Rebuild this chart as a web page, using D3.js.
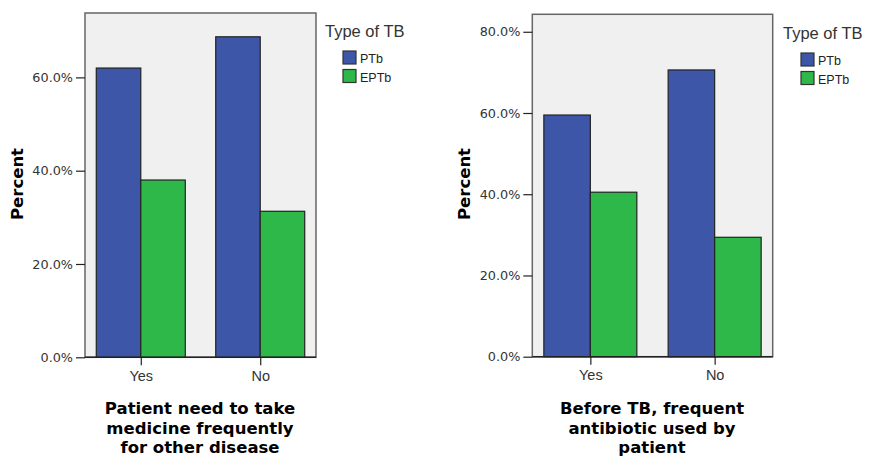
<!DOCTYPE html>
<html><head><meta charset="utf-8">
<script src="https://cdn.jsdelivr.net/npm/d3@7"></script>
<style>body{margin:0;background:#fff}svg{display:block}</style>
</head><body>
<svg id="c" width="869" height="459"></svg>
<script>
const categories = ["Yes", "No"];
const seriesNames = ["PTb", "EPTb"];
const left_PTb = [62.0, 68.7];
const left_EPTb = [38.0, 31.3];
const right_PTb = [59.5, 70.6];
const right_EPTb = [40.5, 29.4];
const leftTicks = [0, 20, 40, 60];
const rightTicks = [0, 20, 40, 60, 80];
const leftTitle = ["Patient need to take", "medicine frequently", "for other disease"];
const rightTitle = ["Before TB, frequent", "antibiotic used by", "patient"];
const legendTitle = "Type of TB";
const colors = ["#3d56a8", "#2eb84a"];

const SANS = "'Liberation Sans', Arial, sans-serif";
const BOLD = "'DejaVu Sans', Verdana, sans-serif";
const svg = d3.select("#c");

function panel(cfg) {
  const g = svg.append("g");
  const y = d3.scaleLinear().domain([0, cfg.ymax]).range([cfg.y1, cfg.y0]);
  g.append("rect").attr("x", cfg.x0).attr("y", cfg.y0).attr("width", cfg.x1 - cfg.x0).attr("height", cfg.y1 - cfg.y0)
    .attr("fill", "#f0f0f0").attr("stroke", "#666").attr("stroke-width", 1.5);
  const pos = d3.scalePoint().domain(categories).range([cfg.x0, cfg.x1]).padding(0.467);
  const bw = cfg.bw;
  [cfg.ptb, cfg.eptb].forEach((vals, si) => {
    g.selectAll(null).data(categories).join("rect")
      .attr("x", d => si === 0 ? pos(d) - bw : pos(d))
      .attr("y", (d, i) => y(vals[i]))
      .attr("width", bw)
      .attr("height", (d, i) => y(0) - y(vals[i]))
      .attr("fill", colors[si]).attr("stroke", "#222").attr("stroke-width", 1.2);
  });
  const ya = d3.axisLeft(y).tickValues(cfg.ticks).tickFormat(d => d.toFixed(1) + "%").tickSize(9).tickPadding(3);
  const yg = g.append("g").attr("transform", `translate(${cfg.x0},0)`).call(ya);
  yg.select(".domain").remove();
  yg.selectAll("line").attr("stroke", "#222").attr("stroke-width", 1.2);
  yg.selectAll("text").style("font-size", "12.8px").style("fill", "#333").style("font-family", "'DejaVu Sans', sans-serif");
  const xa = d3.axisBottom(pos).tickSize(8).tickPadding(5);
  const xg = g.append("g").attr("transform", `translate(0,${cfg.y1})`).call(xa);
  xg.select(".domain").remove();
  xg.selectAll("line").attr("stroke", "#222").attr("stroke-width", 1.2);
  xg.selectAll("text").style("font-size", "14.5px").style("fill", "#333").style("font-family", SANS);
  g.append("line").attr("x1", cfg.x0).attr("x2", cfg.x1).attr("y1", cfg.y1).attr("y2", cfg.y1).attr("stroke", "#222").attr("stroke-width", 1.5);
  g.append("text").attr("transform", `translate(${cfg.ytx},${cfg.yty}) rotate(-90)`).attr("text-anchor", "middle")
    .attr("dominant-baseline", "central").style("font-weight", "bold").style("font-size", "16.5px").style("font-family", BOLD)
    .attr("fill", "#000").text("Percent");
  cfg.title.forEach((t, i) => {
    g.append("text").attr("x", cfg.tx).attr("y", 414 + i * 19.5).attr("text-anchor", "middle")
      .style("font-weight", "bold").style("font-size", "16.5px").style("font-family", BOLD).attr("fill", "#000").text(t);
  });
  g.append("text").attr("x", cfg.lx).attr("y", cfg.ly).style("font-size", "16.5px").style("font-family", SANS)
    .attr("fill", "#333").text(legendTitle);
  seriesNames.forEach((s, i) => {
    g.append("rect").attr("x", cfg.lx + 18).attr("y", cfg.ly + 14 + i * 18.5).attr("width", 13).attr("height", 13)
      .attr("fill", colors[i]).attr("stroke", "#333").attr("stroke-width", 1.2);
    g.append("text").attr("x", cfg.lx + 35).attr("y", cfg.ly + 26 + i * 18.5).style("font-size", "12.5px")
      .style("font-family", SANS).attr("fill", "#222").text(s);
  });
}

panel({x0: 85, x1: 316, y0: 13, y1: 357.3, ymax: 73.8, bw: 44.5, ptb: left_PTb, eptb: left_EPTb, ticks: leftTicks,
  ytx: 17, yty: 184, tx: 200, title: leftTitle, lx: 325, ly: 37});
panel({x0: 532.3, x1: 772.7, y0: 14.3, y1: 356.7, ymax: 84.3, bw: 46.5, ptb: right_PTb, eptb: right_EPTb, ticks: rightTicks,
  ytx: 464, yty: 184, tx: 652, title: rightTitle, lx: 783, ly: 39});
</script>
</body></html>
